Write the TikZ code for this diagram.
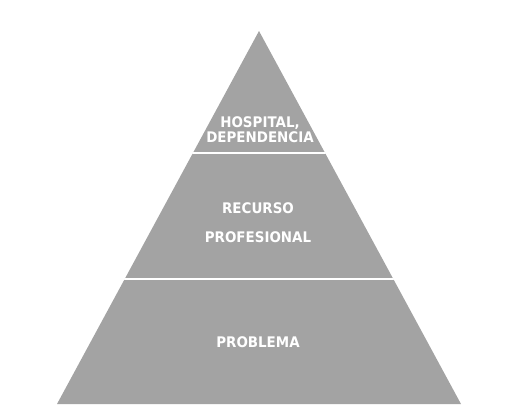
\documentclass[tikz,border=0pt]{standalone}
\usepackage{fontspec}
\usepackage{tkz-euclide}
\usetikzlibrary{calc}
\newfontfamily\rotulo{DejaVu Sans Bold}[FakeStretch=0.92]
\definecolor{capa}{RGB}{163,163,163}
\tikzset{etiqueta/.style={text=white,font=\rotulo\fontsize{14.6}{15}\selectfont,align=center,inner sep=0pt}}

\begin{document}
\begin{tikzpicture}[x=1pt,y=1pt]
            \useasboundingbox (0,0) rectangle (516,416);
            \tkzDefPoints{259/385/A,57/12/B,461/12/C}
            \tkzFillPolygon[color=capa](A,B,C)
            \coordinate (D) at ($(A)!0.327!(B)$);
            \coordinate (E) at ($(A)!0.327!(C)$);
            \coordinate (F) at ($(A)!0.665!(B)$);
            \coordinate (G) at ($(A)!0.665!(C)$);
            \tkzDrawSegments[white,line width=2pt](D,E F,G)
            \node[etiqueta] (hospital) at (260,286) {HOSPITAL,\\DEPENDENCIA};
            \node[etiqueta] (recurso) at (258,193.5) {RECURSO\\[14pt]PROFESIONAL};
            \node[etiqueta] (problema) at (258,74) {PROBLEMA};
        \end{tikzpicture}
\end{document}
